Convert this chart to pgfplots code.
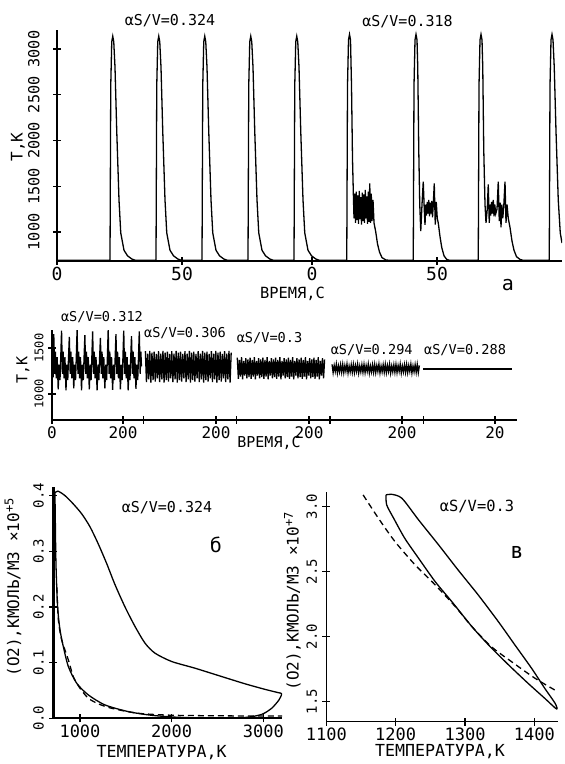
\documentclass[border=0pt]{standalone}
\usepackage{fontspec}
\setmainfont{DejaVu Sans Mono}
\usepackage{pgfplots}
\pgfplotsset{compat=1.18}

\newcommand{\fs}[1]{\fontsize{#1}{#1}\selectfont}

\pgfplotsset{
  plotter/.style={
    scale only axis, anchor=south west,
    axis x line=bottom, axis y line=left,
    axis line style={-, line width=0.8pt},
    tick align=center, major tick length=4pt,
    every tick/.style={black, line width=0.7pt},
    every axis plot/.append style={black, line width=0.65pt, no marks},
    clip=true,
  },
  xlab/.style={xticklabel style={font=\fs{#1}, anchor=north, inner sep=0pt, yshift=-1pt}},
  ylab/.style 2 args={yticklabel style={font=\fs{#1}, xshift=#2, rotate=90, anchor=south, inner sep=0pt}},
  dash/.style={dash pattern=on 3pt off 2pt},
}

\begin{document}
\begin{tikzpicture}
\path[use as bounding box] (0,0) rectangle (282.5pt,382pt);

% ---------- panel a: spikes, aS/V = 0.324 and 0.318
\begin{axis}[plotter, at={(28.5pt,251.5pt)}, width=252.5pt, height=115.5pt,
  xmin=0, xmax=202, ymin=683, ymax=3208,
  xtick={0,50,102,152}, xticklabels={0,50,0,50},
  ytick={1000,1500,2000,2500,3000}, yticklabels={1000,1500,2000,2500,3000},
  xlab=9, ylab={7.6}{-6.5pt}]
\addplot[sharp plot] coordinates {
(0,690) (21.2,690) (21.5,2600) (21.9,3080) (22.3,3140) (22.7,3080) (23.2,2800) (23.9,2100) (24.8,1350) (25.5,990) (26.8,800) (28.2,740) (29.9,705) (31.2,692)
(39.6,690) (39.9,2600) (40.3,3080) (40.7,3140) (41.1,3080) (41.6,2800) (42.3,2100) (43.2,1350) (43.9,990) (45.2,800) (46.6,740) (48.3,705) (49.6,692)
(58,690) (58.3,2600) (58.7,3080) (59.1,3140) (59.5,3080) (60,2800) (60.7,2100) (61.6,1350) (62.3,990) (63.6,800) (65,740) (66.7,705) (68,692)
(76.4,690) (76.7,2600) (77.1,3080) (77.5,3140) (77.9,3080) (78.4,2800) (79.1,2100) (80,1350) (80.7,990) (82,800) (83.4,740) (85.1,705) (86.4,692)
(94.8,690) (95.1,2600) (95.5,3080) (95.9,3140) (96.3,3080) (96.8,2800) (97.5,2100) (98.4,1350) (99.1,990) (100.4,800) (101.8,740) (103.5,705) (104.8,692)
(115.9,690) (116.2,2600) (116.6,3100) (117,3160) (117.4,3100) (117.8,2600) (118.2,1800)
(118.5,1460) (118.8,1150) (119.1,1420) (119.4,1100) (119.7,1440) (120,1130) (120.3,1400) (120.6,1090) (120.9,1450) (121.2,1140) (121.5,1380) (121.8,1080) (122.1,1430) (122.4,1120) (122.7,1410) (123,1100) (123.3,1460) (123.6,1150) (123.9,1390) (124.2,1090) (124.5,1440) (124.8,1110) (125.1,1530) (125.4,1100) (125.7,1420) (126,1120) (126.4,1350) (126.8,1100) (127.5,1000) (128.2,870) (129,780) (130,720) (131.5,695) (133,690)
(142.5,690) (142.8,2600) (143.2,3100) (143.6,3160) (144,3100) (144.3,2800) (144.7,1900) (145.1,1300) (145.5,1010) (146,1300) (146.5,1550) (146.9,1250) (147.2,1077) (147.5,1300) (147.8,1180) (148.1,1330) (148.4,1200) (148.7,1350) (149,1170) (149.3,1320) (149.6,1200) (149.9,1340) (150.2,1160) (150.5,1300) (150.9,1530) (151.3,1080) (151.7,1330) (152.1,1150) (152.5,1100) (153.2,950) (153.9,830) (154.8,740) (155.9,700) (157,690)
(168.5,690) (168.8,2600) (169.2,3100) (169.6,3160) (170,3100) (170.3,2800) (170.7,1900) (171.2,1300) (171.6,1100) (172.1,1250) (172.5,1520) (172.9,1100) (173.2,1300) (173.5,1180) (173.8,1330) (174.1,1200) (174.5,1350) (174.8,1170) (175.1,1300) (175.5,1200) (176,1250) (176.5,1550) (176.9,1120) (177.3,1320) (177.6,1050) (177.9,1300) (178.3,1150) (178.7,1280) (179.2,1550) (179.6,1100) (180,1300) (180.5,1150) (181.2,1050) (182,900) (182.8,800) (183.8,730) (185.2,700) (186.5,690)
(196.9,690) (197.2,2600) (197.6,3100) (198,3160) (198.4,3100) (198.9,2800) (199.6,2100) (200.5,1350) (201.3,990) (202,880)
};
\end{axis}

% ---------- middle panel: five runs
\begin{axis}[plotter, at={(26pt,172pt)}, width=232.5pt, height=45pt,
  xmin=0, xmax=1310, ymin=717, ymax=1696,
  xtick={0,200,462,724,986,1248}, xticklabels={0,200,200,200,200,20},
  extra x ticks={257,520,783,1046}, extra x tick labels={},
  ytick={1000,1500}, yticklabels={1000,1500},
  xlab=8, ylab={6}{-2pt}]
% aS/V = 0.312
\addplot[sharp plot] coordinates {
(0,1250) (2,1420) (3.5,1180)
(5,1650) (7.5,1220) (9.5,1460) (12,1170) (14.5,1400) (17.5,1050) (20,1320) (22.5,1150) (24.5,1380)
(26.9,1690) (29.4,1220) (31.4,1460) (33.9,1170) (36.4,1400) (39.4,1040) (41.9,1320) (44.4,1150) (46.4,1380)
(48.8,1620) (51.3,1220) (53.3,1460) (55.8,1170) (58.3,1400) (61.3,1060) (63.8,1320) (66.3,1150) (68.3,1380)
(70.7,1700) (73.2,1220) (75.2,1460) (77.7,1170) (80.2,1400) (83.2,1040) (85.7,1320) (88.2,1150) (90.2,1380)
(92.6,1640) (95.1,1220) (97.1,1460) (99.6,1170) (102.1,1400) (105.1,1050) (107.6,1320) (110.1,1150) (112.1,1380)
(114.5,1680) (117,1220) (119,1460) (121.5,1170) (124,1400) (127,1040) (129.5,1320) (132,1150) (134,1380)
(136.4,1610) (138.9,1220) (140.9,1460) (143.4,1170) (145.9,1400) (148.9,1060) (151.4,1320) (153.9,1150) (155.9,1380)
(158.3,1700) (160.8,1220) (162.8,1460) (165.3,1170) (167.8,1400) (170.8,1045) (173.3,1320) (175.8,1150) (177.8,1380)
(180.2,1650) (182.7,1220) (184.7,1460) (187.2,1170) (189.7,1400) (192.7,1050) (195.2,1320) (197.7,1150) (199.7,1380)
(202.1,1690) (204.6,1220) (206.6,1460) (209.1,1170) (211.6,1400) (214.6,1040) (217.1,1320) (219.6,1150) (221.6,1380)
(224,1630) (226.5,1220) (228.5,1460) (231,1170) (233.5,1400) (236.5,1055) (239,1320) (241.5,1150) (243.5,1380)
(245.9,1680) (248.4,1220) (250.4,1460) (252,1300)
};
% aS/V = 0.306
\addplot[sharp plot] coordinates {
(263.0,1465) (266.1,1130) (269.2,1440) (272.3,1160) (275.4,1470) (278.5,1125) (281.6,1450) (284.7,1150) (287.8,1460) (290.9,1135) (294.0,1435) (297.1,1170)
(300.2,1465) (303.3,1130) (306.4,1440) (309.5,1160) (312.6,1470) (315.7,1125) (318.8,1450) (321.9,1150) (325.0,1460) (328.1,1135) (331.2,1435) (334.3,1170)
(337.4,1465) (340.5,1130) (343.6,1440) (346.7,1160) (349.8,1470) (352.9,1125) (356.0,1450) (359.1,1150) (362.2,1460) (365.3,1135) (368.4,1435) (371.5,1170)
(374.6,1465) (377.7,1130) (380.8,1440) (383.9,1160) (387.0,1470) (390.1,1125) (393.2,1450) (396.3,1150) (399.4,1460) (402.5,1135) (405.6,1435) (408.7,1170)
(411.8,1465) (414.9,1130) (418.0,1440) (421.1,1160) (424.2,1470) (427.3,1125) (430.4,1450) (433.5,1150) (436.6,1460) (439.7,1135) (442.8,1435) (445.9,1170)
(449.0,1465) (452.1,1130) (455.2,1440) (458.3,1160) (461.4,1470) (464.5,1125) (467.6,1450) (470.7,1150) (473.8,1460) (476.9,1135) (480.0,1435) (483.1,1170)
(486.2,1465) (489.3,1130) (492.4,1440) (495.5,1160) (498.6,1470) (501.7,1125) (504.8,1450)
};
% aS/V = 0.3
\addplot[sharp plot] coordinates {
(522,1395) (525,1165) (528,1370) (531,1190) (534,1400) (537,1160) (540,1360) (543,1200) (546,1390) (549,1170) (552,1375) (555,1185)
(558,1395) (561,1165) (564,1370) (567,1190) (570,1400) (573,1160) (576,1360) (579,1200) (582,1390) (585,1170) (588,1375) (591,1185)
(594,1395) (597,1165) (600,1370) (603,1190) (606,1400) (609,1160) (612,1360) (615,1200) (618,1390) (621,1170) (624,1375) (627,1185)
(630,1395) (633,1165) (636,1370) (639,1190) (642,1400) (645,1160) (648,1360) (651,1200) (654,1390) (657,1170) (660,1375) (663,1185)
(666,1395) (669,1165) (672,1370) (675,1190) (678,1400) (681,1160) (684,1360) (687,1200) (690,1390) (693,1170) (696,1375) (699,1185)
(702,1395) (705,1165) (708,1370) (711,1190) (714,1400) (717,1160) (720,1360) (723,1200) (726,1390) (729,1170) (732,1375) (735,1185)
(738,1395) (741,1165) (744,1370) (747,1190) (750,1400) (753,1160) (756,1360) (759,1200) (762,1390) (765,1170) (768,1375)
};
% aS/V = 0.294
\addplot[sharp plot] coordinates {
(789,1322) (792,1232) (795,1310) (798,1245) (801,1325) (804,1228) (807,1305) (810,1240) (813,1318) (816,1235)
(819,1322) (822,1232) (825,1310) (828,1245) (831,1325) (834,1228) (837,1305) (840,1240) (843,1318) (846,1235)
(849,1322) (852,1232) (855,1310) (858,1245) (861,1325) (864,1228) (867,1305) (870,1240) (873,1318) (876,1235)
(879,1322) (882,1232) (885,1310) (888,1245) (891,1325) (894,1228) (897,1305) (900,1240) (903,1318) (906,1235)
(909,1322) (912,1232) (915,1310) (918,1245) (921,1325) (924,1228) (927,1305) (930,1240) (933,1318) (936,1235)
(939,1322) (942,1232) (945,1310) (948,1245) (951,1325) (954,1228) (957,1305) (960,1240) (963,1318) (966,1235)
(969,1322) (972,1232) (975,1310) (978,1245) (981,1325) (984,1228) (987,1305) (990,1240) (993,1318) (996,1235)
(999,1322) (1002,1232) (1005,1310) (1008,1245) (1011,1325) (1014,1228) (1017,1305) (1020,1240) (1023,1318) (1026,1235)
(1029,1322) (1032,1232) (1035,1310)
};
% aS/V = 0.288
\addplot[sharp plot] coordinates {(1045,1272) (1296,1272)};
\end{axis}

% ---------- panel b: (O2) vs T, aS/V = 0.324
\begin{axis}[plotter, at={(26.65pt,22.85pt)}, width=114.35pt, height=115.8pt,
  xmin=709, xmax=3203, ymin=0, ymax=0.416,
  xtick={1000,2000,3000}, xticklabels={1000,2000,3000},
  ytick={0,0.1,0.2,0.3,0.4}, yticklabels={0.0,0.1,0.2,0.3,0.4},
  y axis line style={line width=1.6pt},
  xlab=8.5, ylab={7}{-2.5pt}]
\addplot[smooth, tension=0.45] coordinates {
(727,0.405) (760,0.408) (836,0.400) (927,0.385) (1020,0.367) (1109,0.344) (1200,0.313) (1291,0.278) (1382,0.240) (1491,0.200) (1600,0.165) (1709,0.135) (1818,0.117) (2000,0.102) (2254,0.090) (2545,0.075) (2799,0.062) (3017,0.052) (3163,0.046) (3199,0.044)
(3170,0.033) (3090,0.018) (2981,0.007) (2799,0.0015) (2436,0.0005) (2072,0.0018) (1782,0.0054) (1527,0.012) (1273,0.024) (1091,0.042) (964,0.063) (873,0.093) (818,0.129) (782,0.159) (756,0.20) (738,0.278) (730,0.368) (727,0.405)
};
\addplot[dash, smooth, tension=0.45] coordinates {
(748,0.235) (764,0.177) (800,0.141) (873,0.105) (927,0.075) (1000,0.054) (1091,0.036) (1200,0.026) (1345,0.018) (1636,0.009) (2000,0.0055) (2500,0.0045) (3000,0.004) (3203,0.004)
};
\end{axis}

% ---------- panel v: (O2) vs T, aS/V = 0.3
\begin{axis}[plotter, at={(163.2pt,21.15pt)}, width=115.95pt, height=115pt,
  xmin=1100, xmax=1434.6, ymin=1.346, ymax=3.115,
  xtick={1100,1200,1300,1400}, xticklabels={1100,1200,1300,1400},
  ytick={1.5,2,2.5,3}, yticklabels={1.5,2.0,2.5,3.0},
  xlab=8.5, ylab={7}{-2.5pt}]
\addplot[smooth, tension=0.45] coordinates {
(1186,3.09) (1187,3.013) (1197,2.911) (1213,2.757) (1233,2.603) (1257,2.423) (1281,2.269) (1310,2.077) (1334,1.936) (1363,1.782) (1391,1.641) (1415,1.526) (1432,1.444)
(1430,1.487) (1415,1.603) (1396,1.757) (1372,1.936) (1348,2.116) (1319,2.321) (1290,2.513) (1262,2.705) (1233,2.898) (1209,3.064) (1194,3.095) (1186,3.09)
};
\addplot[dash, smooth, tension=0.45] coordinates {
(1153,3.09) (1175,2.911) (1199,2.731) (1228,2.552) (1257,2.398) (1286,2.231) (1310,2.077) (1338,1.923) (1367,1.808) (1401,1.680) (1432,1.582)
};
\end{axis}

% ---------- texts
\node[font=\fs{7.5}] at (85pt,371.5pt) {αS/V=0.324};
\node[font=\fs{7.5}] at (203.75pt,371pt) {αS/V=0.318};
\node[font=\fs{8}, rotate=90] at (9pt,308.5pt) {Т,К};
\node[font=\fs{7.7}] at (146.25pt,235pt) {ВРЕМЯ,С};
\node[font=\fs{10}] at (254pt,239.5pt) {а};

\node[font=\fs{6.8}] at (51pt,223.5pt) {αS/V=0.312};
\node[font=\fs{6.8}] at (92.5pt,215.5pt) {αS/V=0.306};
\node[font=\fs{6.8}] at (134.75pt,213pt) {αS/V=0.3};
\node[font=\fs{6.8}] at (185.85pt,207pt) {αS/V=0.294};
\node[font=\fs{6.8}] at (232.5pt,207pt) {αS/V=0.288};
\node[font=\fs{7.5}, rotate=90] at (11.5pt,197pt) {Т,К};
\node[font=\fs{7.5}] at (134.5pt,160.75pt) {ВРЕМЯ,С};

\node[font=\fs{7.5}] at (83.5pt,128pt) {αS/V=0.324};
\node[font=\fs{10}] at (108pt,109.5pt) {б};
\node[font=\fs{8.3}] at (80.8pt,5.5pt) {ТЕМПЕРАТУРА,К};
\node[font=\fs{8}, rotate=90] at (6.5pt,88.5pt) {(O2),КМОЛЬ/М3 ×10\textsuperscript{+5}};

\node[font=\fs{7.7}] at (238.5pt,128.5pt) {αS/V=0.3};
\node[font=\fs{11}] at (258.5pt,106pt) {в};
\node[font=\fs{8.3}] at (220pt,6pt) {ТЕМПЕРАТУРА,К};
\node[font=\fs{8}, rotate=90] at (146.25pt,81.5pt) {(O2),КМОЛЬ/М3 ×10\textsuperscript{+7}};
\end{tikzpicture}
\end{document}
